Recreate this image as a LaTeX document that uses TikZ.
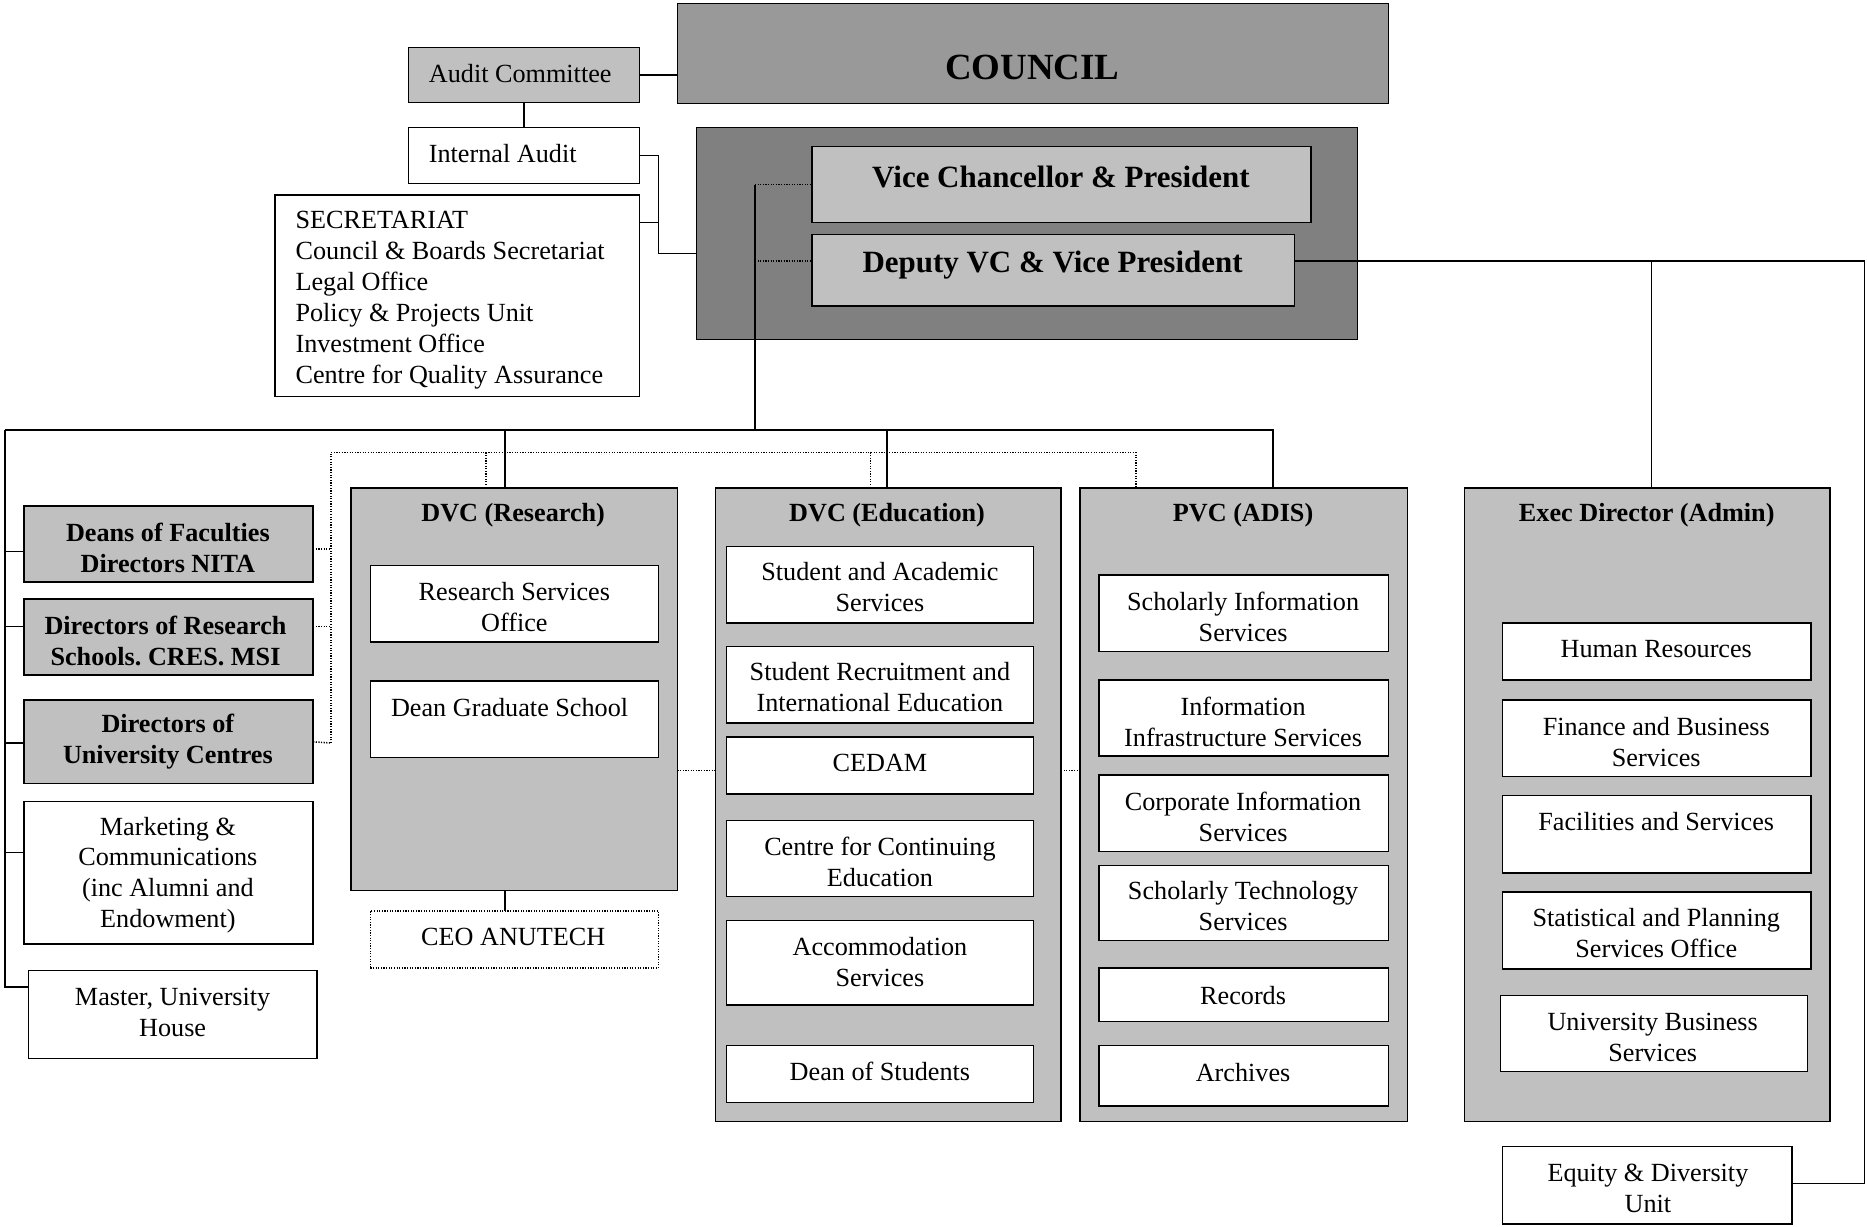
\documentclass[tikz,border=0pt]{standalone}
\usepackage{fontspec}
\setmainfont{Liberation Serif}
\definecolor{lgray}{HTML}{C0C0C0}
\definecolor{cgray}{HTML}{999999}
\definecolor{dgray}{HTML}{808080}
\frenchspacing
\tikzset{
 box/.style={draw, line width=1.3pt, inner sep=0pt, outer sep=0pt},
 wbox/.style={box, fill=white},
 lbox/.style={box, fill=lgray},
 txt/.style={inner sep=0pt, font=\fontsize{22}{26}\selectfont, align=center},
 btxt/.style={inner sep=0pt, font=\fontsize{22}{26}\selectfont\bfseries, align=center},
 conn/.style={line width=1.3pt},
 dconn/.style={line width=1.3pt, dash pattern=on 1pt off 1.2pt},
}
\newcommand\mkbox[6]{\node[#6, minimum width={(#4-#2)*1pt}, minimum height={(#5-#3)*1pt}] (#1) at ({(#2+#4)/2},{(#3+#5)/2}) {};}
\begin{document}
\begin{tikzpicture}[x=1pt,y=-1pt]
\useasboundingbox (0,0) rectangle (1568,1030);
% ---------- connector coordinates ----------
\coordinate (vline) at (634,155);
\coordinate (dvcj) at (634,219);
\coordinate (bus) at (634,361);
\coordinate (busL) at (4,361);
\coordinate (busR) at (1069,361);
\coordinate (leftend) at (4,829);
\coordinate (dotL) at (278,380);
\coordinate (dotR) at (954,380);
\coordinate (dotB) at (278,624);
\coordinate (secj) at (553,213);
\coordinate (rt) at (1566,219);
\coordinate (rtb) at (1566,994);
\coordinate (execj) at (1387,219);
\coordinate (colmid) at (0,647);

% ---------- top ----------
\mkbox{council}{569}{3}{1166}{87}{box, fill=cgray}
\node[inner sep=0pt, font=\fontsize{31}{36}\selectfont\bfseries] (councilt) at (867,57) {COUNCIL};
\mkbox{audit}{343}{40}{537}{86}{lbox}
\node[txt, anchor=west] (auditt) at (360,62) {Audit Committee};
\mkbox{ia}{343}{107}{537}{154}{wbox}
\node[txt, anchor=west] (iat) at (360,129) {Internal Audit};
\mkbox{sec}{231}{164}{537}{333}{wbox}
\node[txt, anchor=west, align=left] (sect) at (248,252) {SECRETARIAT\\Council \& Boards Secretariat\\Legal Office\\Policy \& Projects Unit\\Investment Office\\Centre for Quality Assurance};

\mkbox{vcouter}{585}{107}{1140}{285}{box, fill=dgray}
\mkbox{vc}{682}{123}{1101}{187}{lbox}
\node[inner sep=0pt, font=\fontsize{26}{30}\selectfont\bfseries] (vct) at (891,149) {Vice Chancellor \& President};
\mkbox{dvc}{682}{197}{1087}{257}{lbox}
\node[inner sep=0pt, font=\fontsize{26}{30}\selectfont\bfseries] (dvct) at (884,223) {Deputy VC \& Vice President};

\draw[conn] (audit.east) -- (audit.east -| council.west);
\draw[conn] (audit.south) -- (audit.south |- ia.north);
\draw[conn] (ia.east) -- (ia.east -| secj) -- (secj) -- (secj -| vcouter.west);
\draw[conn] (sec.east |- 0,187) -- (secj |- 0,187);
\draw[dconn] (vline) -- (vc.west);
\draw[dconn] (dvcj) -- (dvcj -| dvc.west);
\draw[conn] (vline) -- (bus);
\draw[conn] (dvcj -| dvc.east) -- (rt) -- (rtb);

% ---------- left column ----------
\mkbox{deans}{20}{425}{263}{489}{lbox}
\node[btxt] (deanst) at (141,460) {Deans of Faculties\\Directors NITA};
\mkbox{dors}{20}{503}{263}{567}{lbox}
\node[btxt] (dorst) at (139,538) {Directors of Research\\Schools. CRES. MSI};
\mkbox{douc}{20}{588}{263}{658}{lbox}
\node[btxt] (douct) at (141,623) {Directors of\\University Centres};
\mkbox{mkt}{20}{673}{263}{793}{wbox}
\node[txt] (mktt) at (141,735) {Marketing \&\\Communications\\(inc Alumni and\\Endowment)};
\mkbox{master}{24}{815}{266}{889}{wbox}
\node[txt] (mastert) at (145,850) {Master, University\\House};

% ---------- DVC Research ----------
\mkbox{dvcr}{295}{410}{569}{748}{lbox}
\node[btxt] (dvcrt) at (431,433) {DVC (Research)};
\mkbox{rso}{311}{475}{553}{539}{wbox}
\node[txt] (rsot) at (432,510) {Research Services\\Office};
\mkbox{dgs}{311}{572}{553}{636}{wbox}
\node[txt] (dgst) at (428,594) {Dean Graduate School};
\mkbox{ceo}{311}{765}{553}{813}{box, line width=1.2pt, dash pattern=on 1pt off 1.2pt}
\node[txt] (ceot) at (431,787) {CEO ANUTECH};

% ---------- DVC Education ----------
\mkbox{dvce}{601}{410}{891}{942}{lbox}
\node[btxt] (dvcet) at (745,433) {DVC (Education)};
\mkbox{sas}{610}{459}{868}{523}{wbox}
\node[txt] (sast) at (739,493) {Student and Academic\\Services};
\mkbox{srie}{610}{543}{868}{607}{wbox}
\node[txt] (sriet) at (739,577) {Student Recruitment and\\International Education};
\mkbox{cedam}{610}{619}{868}{667}{wbox}
\node[txt] (cedamt) at (739,641) {CEDAM};
\mkbox{cce}{610}{689}{868}{753}{wbox}
\node[txt] (ccet) at (739,724) {Centre for Continuing\\Education};
\mkbox{acc}{610}{773}{868}{844}{wbox}
\node[txt] (acct) at (739,808) {Accommodation\\Services};
\mkbox{dos}{610}{878}{868}{926}{wbox}
\node[txt] (dost) at (739,900) {Dean of Students};

% ---------- PVC ----------
\mkbox{pvc}{907}{410}{1182}{942}{lbox}
\node[btxt] (pvct) at (1044,433) {PVC (ADIS)};
\mkbox{sis}{923}{483}{1166}{547}{wbox}
\node[txt] (sist) at (1044,518) {Scholarly Information\\Services};
\mkbox{iis}{923}{571}{1166}{635}{wbox}
\node[txt] (iist) at (1044,606) {Information\\Infrastructure Services};
\mkbox{cis}{923}{651}{1166}{715}{wbox}
\node[txt] (cist) at (1044,686) {Corporate Information\\Services};
\mkbox{sts}{923}{727}{1166}{790}{wbox}
\node[txt] (stst) at (1044,761) {Scholarly Technology\\Services};
\mkbox{rec}{923}{813}{1166}{858}{wbox}
\node[txt] (rect) at (1044,836) {Records};
\mkbox{arc}{923}{878}{1166}{929}{wbox}
\node[txt] (arct) at (1044,901) {Archives};

% ---------- Exec Director ----------
\mkbox{exec}{1230}{410}{1537}{942}{lbox}
\node[btxt] (exect) at (1383,433) {Exec Director (Admin)};
\mkbox{hr}{1262}{523}{1521}{571}{wbox}
\node[txt] (hrt) at (1391,545) {Human Resources};
\mkbox{fbs}{1262}{588}{1521}{652}{wbox}
\node[txt] (fbst) at (1391,623) {Finance and Business\\Services};
\mkbox{fac}{1262}{668}{1521}{733}{wbox}
\node[txt] (fact) at (1391,690) {Facilities and Services};
\mkbox{sps}{1262}{749}{1521}{814}{wbox}
\node[txt] (spst) at (1391,784) {Statistical and Planning\\Services Office};
\mkbox{ubs}{1260}{836}{1518}{900}{wbox}
\node[txt] (ubst) at (1388,871) {University Business\\Services};
\mkbox{equity}{1262}{963}{1505}{1028}{wbox}
\node[txt] (equityt) at (1384,998) {Equity \& Diversity\\Unit};

% ---------- lower connectors ----------
\draw[conn] (busL) -- (busR) -- (busR |- pvc.north);
\draw[conn] (424,361) -- (424,410);
\draw[conn] (745,361) -- (745,410);
\draw[conn] (busL) -- (leftend) -- (leftend -| master.west);
\draw[conn] (4,463) -- (deans.west |- 0,463);
\draw[conn] (4,526) -- (dors.west |- 0,526);
\draw[conn] (4,624) -- (douc.west |- 0,624);
\draw[conn] (4,716) -- (mkt.west |- 0,716);
\draw[conn] (execj) -- (execj |- exec.north);
\draw[conn] (rtb) -- (rtb -| equity.east);
\draw[conn] (424,748) -- (ceo.north -| 424,0);
\draw[dconn] (dotB) -- (dotL) -- (dotR) -- (dotR |- pvc.north);
\draw[dconn] (408,380) -- (408,410);
\draw[dconn] (731,380) -- (731,410);
\draw[dconn] (deans.east |- 0,461) -- (dotL |- 0,461);
\draw[dconn] (dors.east |- 0,526) -- (dotL |- 0,526);
\draw[dconn] (douc.east |- 0,623) -- (dotB);
\draw[dconn] (dvcr.east |- colmid) -- (dvce.west |- colmid);
\draw[dconn] (dvce.east |- colmid) -- (pvc.west |- colmid);
\end{tikzpicture}
\end{document}
